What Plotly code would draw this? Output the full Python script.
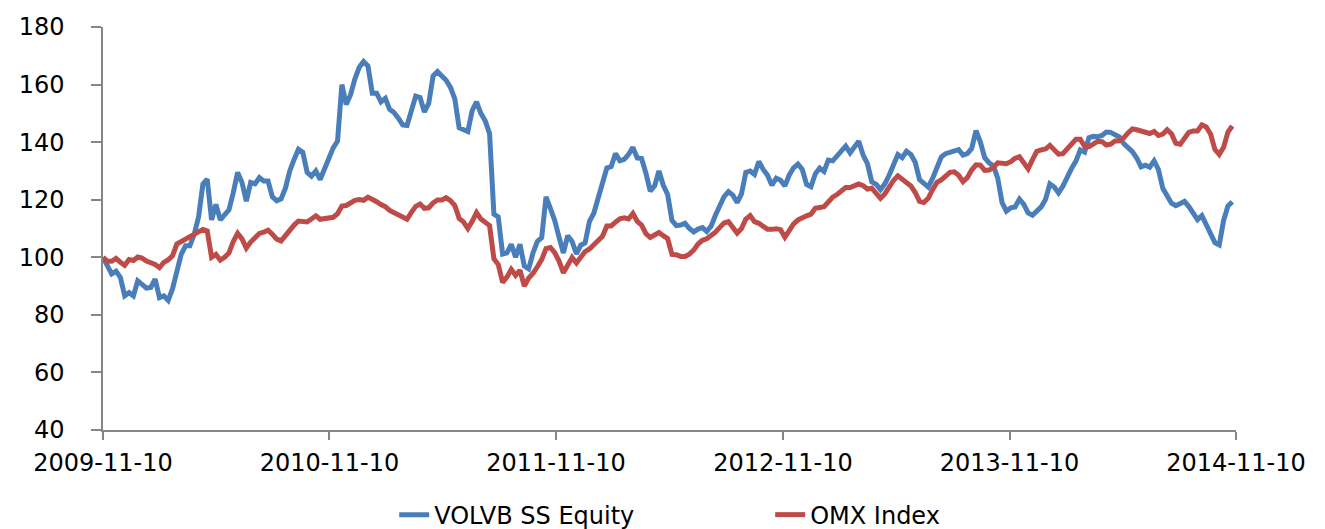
import pandas as pd
import plotly.graph_objects as go

start_date = "2009-11-10"
n_weeks = 261

volvb = [
    100, 97, 94.2, 95.2, 93, 86.6, 87.7, 86.6, 91.8, 90.6,
    89.3, 89.5, 92.4, 86.0, 86.6, 85, 89, 95, 101, 104,
    104, 108, 114, 125.4, 127.1, 113, 118.4, 113, 114.5, 116.5,
    122.5, 129.5, 126, 119.5, 126, 125.5, 127.7, 126.5, 126.5, 121,
    119.6, 120.3, 124, 130, 134, 137.5, 136.5, 129.5, 128.2, 130,
    127, 130.5, 134.5, 138, 140.4, 160, 153.1, 156.5, 162, 166,
    168, 166.5, 157, 157, 154, 155.2, 151.4, 150.3, 148.3, 146,
    145.8, 151, 156, 155.5, 150.5, 153.5, 163, 164.5, 163, 161.5,
    159, 155, 145, 144.5, 143.7, 151, 154, 150, 147.4, 143,
    115, 114, 101.1, 101.5, 104.5, 100, 104.5, 97, 96, 101.5,
    105.5, 106.8, 121, 117, 112.8, 107, 101.5, 107.5, 105.5, 101.2,
    104.2, 105, 112.5, 115.3, 120.3, 125.4, 131, 131.5, 136, 133.5,
    134, 135.7, 138.2, 134.5, 134.3, 129.2, 123, 124.8, 130, 125,
    121.8, 112.8, 111, 111.2, 111.8, 110, 108.8, 109.8, 110.3, 109,
    110.8, 114.6, 117.9, 121.1, 122.8, 121.6, 119, 122, 129.5, 130,
    128.8, 133.3, 130.5, 128.5, 125, 127.5, 126.8, 124.8, 128.6, 131.1,
    132.4, 130.5, 125.3, 124.5, 129, 131, 129.8, 133.8, 133.5, 135.3,
    137.1, 138.6, 136.3, 138.6, 140.3, 135.5, 132.5, 126.2, 125.4, 123.5,
    125.5, 128.5, 131.6, 135.7, 134.6, 136.8, 135.7, 133, 127, 125.5,
    124.4, 127.4, 130.8, 134.8, 136, 136.4, 137.1, 137.4, 135.5, 136,
    137.8, 144, 140, 134.6, 132.8, 131.8, 127.5, 119, 116, 117.2,
    117.5, 120.2, 118.4, 115.4, 114.6, 116.2, 117.5, 120.1, 125.5, 124.4,
    122.4, 124.7, 128.3, 130.9, 133.4, 137.3, 136.5, 141.5, 142, 141.9,
    142.3, 143.5, 143.4, 142.8, 141.8, 139.5, 138.1, 136.7, 134.5, 131.4,
    132, 131.3, 133.5, 130.5, 124, 121.6, 118.8, 117.9, 118.7, 119.4,
    117.6, 115.3, 113.1, 114.5, 111.2, 108, 105.1, 104.3, 112.8, 117.8,
    119.3,
]

omx = [
    100, 98.7, 98.6, 99.6, 98.3, 97.2, 99.2, 98.9, 100.1, 99.7,
    98.7, 98.3, 97.5, 96.4, 98.2, 99.1, 100.5, 104.6, 105.4, 106.2,
    106.9, 107.7, 108.7, 109.7, 109.2, 100, 101, 99, 100, 101.5,
    105.5, 108.3, 106.4, 103.2, 105.3, 106.6, 108.3, 108.7, 109.4, 108,
    106.3, 105.7, 107.5, 109.8, 111.2, 112.6, 112.5, 112.3, 113.3, 114.4,
    113.2, 113.4, 113.8, 113.9, 115.1, 117.8, 118, 118.8, 119.8, 120.1,
    119.8, 120.9, 120.3, 119.3, 118.3, 117.6, 116.3, 115.5, 115.1, 114.3,
    113.2, 115.6, 117.7, 118.5, 117, 117.2, 118.9, 119.9, 119.9, 120.7,
    119.7, 118, 113.5, 112.3, 110, 112.5, 115.5, 113.3, 112.3, 111,
    99.5, 97.5, 91.3, 93.1, 95.8, 93.7, 95.5, 90, 92.8, 94.4,
    96.7, 99.2, 103, 103.4, 101.6, 98.7, 94.6, 97, 99.9, 98,
    99.7, 102, 102.9, 104.2, 105.8, 107.3, 110.9, 110.9, 112.2, 113.4,
    113.7, 113.3, 115.2, 112.5, 111.2, 108.2, 106.9, 108, 108.6, 107.5,
    106.5, 101, 100.9, 100.3, 100.3, 101.1, 102.5, 104.6, 105.9, 106.4,
    107.3, 108.7, 110.4, 111.9, 112.4, 110.3, 108.4, 110, 113.3, 114.5,
    112.4, 111.8, 110.8, 109.7, 109.7, 109.9, 109.6, 107, 109.3, 111.6,
    113, 113.9, 114.4, 115, 117, 117.3, 117.6, 119.2, 120.9, 121.8,
    122.8, 124.2, 124.2, 125.1, 125.5, 124.9, 123.7, 124, 122.1, 120.5,
    122, 124.6, 126.7, 128.3, 127.3, 125.8, 124.8, 122.5, 119.4, 119,
    120.5, 123.5, 126, 126.9, 128.4, 129.5, 129.7, 128.5, 126.3, 127.7,
    130.3, 132.1, 132, 130.2, 130.3, 131.2, 132.8, 132.5, 132.5, 133.2,
    134.4, 134.9, 132.7, 130.7, 133.9, 136.8, 137.3, 137.6, 138.9, 137.6,
    135.8, 136, 137.8, 139.4, 141, 141, 138.5, 138.4, 139.4, 140.3,
    140.2, 139, 139.3, 140.4, 140.5, 141.5, 143.2, 144.6, 144.3, 143.8,
    143.4, 143, 143.7, 142.3, 142.8, 144.3, 142.9, 139.6, 139.3, 141.6,
    143.4, 143.9, 143.9, 146, 145.3, 142.8, 137.5, 135.7, 138.2, 143.5,
    145.6,
]

tick_dates = ["2009-11-10", "2010-11-10", "2011-11-10", "2012-11-10",
              "2013-11-10", "2014-11-10"]
y_ticks = [40, 60, 80, 100, 120, 140, 160, 180]

dates = pd.date_range(start_date, periods=n_weeks, freq="7D")

fig = go.Figure()
fig.add_trace(go.Scatter(x=dates, y=volvb, mode="lines", name="VOLVB SS Equity",
                         line=dict(color="#4A7EBB", width=5)))
fig.add_trace(go.Scatter(x=dates, y=omx, mode="lines", name="OMX Index",
                         line=dict(color="#BE4B48", width=5)))

font_family = "DejaVu Sans, Verdana, sans-serif"
fig.update_layout(
    width=1325, height=529,
    margin=dict(l=95, r=97, t=19, b=107, autoexpand=False),
    paper_bgcolor="white", plot_bgcolor="white",
    showlegend=True,
    legend=dict(orientation="h", x=0.257, xanchor="left", y=-0.211, yanchor="middle",
                font=dict(family=font_family, size=24, color="#000000"),
                entrywidth=331, entrywidthmode="pixels",
                itemwidth=30, tracegroupgap=0),
    font=dict(family=font_family, size=24, color="#000000"),
)
fig.update_xaxes(
    type="date", range=[tick_dates[0], tick_dates[-1]],
    tickvals=tick_dates, ticktext=tick_dates,
    showgrid=False, zeroline=False,
    showline=True, linecolor="#868686", linewidth=1.5,
    ticks="outside", ticklen=8, tickcolor="#868686", tickwidth=1.5,
    tickfont=dict(family=font_family, size=24, color="#000000"),
    ticklabelstandoff=2,
)
fig.update_yaxes(
    range=[40, 180], tickvals=y_ticks,
    showgrid=False, zeroline=False,
    showline=True, linecolor="#868686", linewidth=1.5,
    ticks="outside", ticklen=10, tickcolor="#868686", tickwidth=1.5,
    tickfont=dict(family=font_family, size=24, color="#000000"),
    ticklabelstandoff=22,
)

fig.write_html("out.html")
